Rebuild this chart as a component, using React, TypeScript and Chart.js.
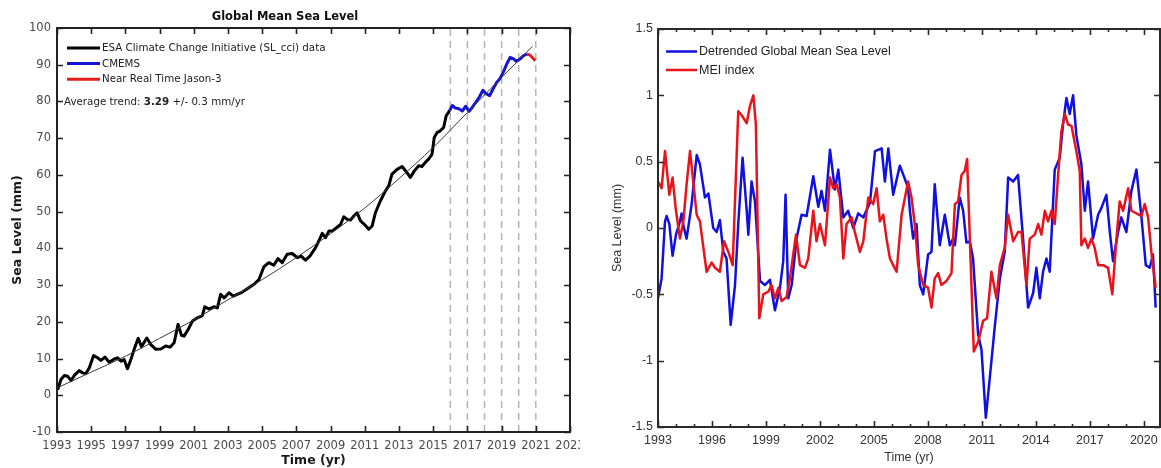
import React, { useEffect, useRef } from "react";
import { Chart, registerables } from "chart.js";

Chart.register(...registerables);

// ---------------- Left chart data (Global Mean Sea Level, mm) ----------------
const esaYears = [
  1993.04, 1993.23, 1993.43, 1993.62, 1993.82, 1994.01, 1994.3, 1994.5, 1994.69, 1994.89,
  1995.14, 1995.37, 1995.57, 1995.8, 1996.05, 1996.35, 1996.54, 1996.74, 1996.93, 1997.12,
  1997.32, 1997.51, 1997.75, 1997.94, 1998.25, 1998.49, 1998.78, 1999.07, 1999.36, 1999.61,
  1999.85, 2000.08, 2000.28, 2000.43, 2000.67, 2000.92, 2001.21, 2001.5, 2001.64, 2001.89,
  2002.18, 2002.38, 2002.57, 2002.77, 2003.06, 2003.31, 2003.54, 2003.84, 2004.13, 2004.52,
  2004.81, 2005.1, 2005.39, 2005.68, 2005.92, 2006.17, 2006.46, 2006.75, 2007.05, 2007.28,
  2007.53, 2007.79, 2008.12, 2008.31, 2008.51, 2008.7, 2008.9, 2009.09, 2009.29, 2009.58,
  2009.77, 2009.97, 2010.16, 2010.4, 2010.55, 2010.75, 2010.98, 2011.23, 2011.43, 2011.62,
  2011.91, 2012.2, 2012.4, 2012.59, 2012.89, 2013.18, 2013.47, 2013.66, 2013.9, 2014.15,
  2014.34, 2014.54, 2014.73, 2014.93, 2015.06, 2015.22, 2015.41, 2015.61, 2015.76, 2015.96,
];
const esaLevels = [
  1.5, 4.3, 5.4, 5.2, 4.0, 5.4, 6.7, 6.1, 5.9, 7.5,
  10.8, 10.2, 9.5, 10.4, 9.0, 9.9, 10.2, 9.3, 9.7, 7.2,
  9.7, 12.5, 15.5, 13.2, 15.6, 13.8, 12.5, 12.6, 13.4, 13.1,
  14.3, 19.3, 16.3, 16.1, 17.9, 20.2, 21.1, 21.7, 24.1, 23.5,
  24.1, 23.8, 27.5, 26.5, 27.9, 27.0, 27.5, 28.1, 29.0, 30.2,
  31.5, 35.0, 36.1, 35.4, 37.2, 36.1, 38.4, 38.6, 37.5, 37.9,
  36.8, 37.9, 40.2, 42.0, 44.1, 42.9, 44.7, 44.7, 45.4, 46.5,
  48.6, 47.9, 47.7, 49.0, 49.7, 47.5, 46.5, 45.2, 46.1, 49.7,
  52.9, 55.6, 57.0, 60.2, 61.5, 62.3, 60.6, 59.3, 61.1, 62.5,
  62.3, 63.4, 64.3, 65.6, 70.2, 71.5, 72.0, 72.9, 76.1, 77.5,
];
const cmemsYears = [
  2015.96, 2016.12, 2016.3, 2016.5, 2016.7, 2016.9, 2017.1, 2017.3, 2017.5, 2017.7,
  2017.9, 2018.1, 2018.3, 2018.5, 2018.7, 2018.9, 2019.1, 2019.3, 2019.5, 2019.7,
  2019.86, 2020.09, 2020.28, 2020.48,
];
const cmemsLevels = [
  77.5, 78.9, 78.2, 78.0, 77.4, 78.7, 77.3, 78.5, 79.8, 81.2,
  83.0, 82.1, 81.6, 83.4, 85.1, 86.2, 88.0, 90.2, 92.0, 91.6,
  90.9, 91.6, 92.5, 92.9,
];
const nrtYears = [2020.48, 2020.67, 2020.87, 2020.97];
const nrtLevels = [92.9, 92.6, 91.6, 91.1];
const trendYears = [1993, 1995, 1997, 1999, 2001, 2003, 2005, 2007, 2009, 2011, 2013, 2015, 2017, 2019, 2020.8];
const trendLevels = [2.0, 6.3, 10.6, 15.5, 20.5, 26.0, 31.5, 37.5, 44.0, 51.0, 59.0, 67.5, 77.0, 86.5, 95.0];
const dashedYears = [2016, 2017, 2018, 2019, 2020, 2021];
const leftXTicks = [1993, 1995, 1997, 1999, 2001, 2003, 2005, 2007, 2009, 2011, 2013, 2015, 2017, 2019, 2021, 2023];
const leftYTicks = [-10, 0, 10, 20, 30, 40, 50, 60, 70, 80, 90, 100];
const leftLegend = ["ESA Climate Change Initiative (SL_cci) data", "CMEMS", "Near Real Time Jason-3"];

// ---------------- Right chart data (detrended GMSL vs MEI) ----------------
const gmslYears = [
  1993.0, 1993.2, 1993.39, 1993.48, 1993.63, 1993.81, 1994.0, 1994.22, 1994.31, 1994.41,
  1994.59, 1994.87, 1995.15, 1995.33, 1995.61, 1995.8, 1996.07, 1996.26, 1996.44, 1996.63,
  1996.81, 1997.04, 1997.28, 1997.46, 1997.7, 1997.93, 1998.02, 1998.2, 1998.39, 1998.67,
  1998.94, 1999.22, 1999.5, 1999.78, 1999.96, 2000.09, 2000.24, 2000.43, 2000.7, 2000.98,
  2001.26, 2001.63, 2001.91, 2002.09, 2002.28, 2002.56, 2002.83, 2003.02, 2003.3, 2003.57,
  2003.85, 2004.13, 2004.41, 2004.78, 2005.06, 2005.43, 2005.61, 2005.8, 2006.07, 2006.44,
  2006.72, 2006.9, 2007.0, 2007.18, 2007.37, 2007.55, 2007.74, 2008.01, 2008.2, 2008.38,
  2008.66, 2008.94, 2009.22, 2009.4, 2009.5, 2009.77, 2009.96, 2010.14, 2010.33, 2010.51,
  2010.79, 2010.98, 2011.22, 2011.44, 2011.72, 2012.0, 2012.27, 2012.46, 2012.74, 2013.01,
  2013.29, 2013.57, 2013.85, 2014.03, 2014.22, 2014.4, 2014.59, 2014.77, 2015.05, 2015.33,
  2015.51, 2015.7, 2015.88, 2016.07, 2016.25, 2016.53, 2016.72, 2016.9, 2017.18, 2017.46,
  2017.64, 2017.92, 2018.11, 2018.29, 2018.57, 2018.75, 2019.03, 2019.31, 2019.59, 2019.87,
  2020.11, 2020.33, 2020.51, 2020.66,
];
const gmslValues = [
  -0.53, -0.38, 0.05, 0.09, 0.03, -0.21, -0.05, 0.05, 0.11, 0.02,
  -0.08, 0.18, 0.55, 0.48, 0.23, 0.26, 0.0, -0.03, 0.06, -0.18,
  -0.23, -0.73, -0.43, 0.03, 0.53, 0.13, -0.05, 0.35, 0.2, -0.4,
  -0.43, -0.39, -0.62, -0.45, -0.25, 0.25, -0.53, -0.43, -0.08, 0.1,
  0.09, 0.39, 0.16, 0.28, 0.13, 0.59, 0.29, 0.44, 0.08, 0.13,
  0.0, 0.11, 0.08, 0.19, 0.58, 0.6, 0.35, 0.6, 0.25, 0.47,
  0.37, 0.3, 0.13, -0.08, 0.03, -0.43, -0.5, -0.2, -0.18, 0.33,
  -0.13, 0.1, -0.13, -0.08, -0.13, 0.23, 0.13, -0.11, -0.1, -0.23,
  -0.8, -0.92, -1.43, -1.13, -0.74, -0.38, -0.18, 0.38, 0.35, 0.4,
  -0.08, -0.6, -0.49, -0.3, -0.53, -0.33, -0.23, -0.33, 0.44, 0.53,
  0.78, 0.98, 0.86, 1.0, 0.7, 0.48, 0.13, 0.35, -0.08, 0.1,
  0.15, 0.25, -0.03, -0.25, -0.03, 0.08, -0.03, 0.28, 0.44, 0.08,
  -0.28, -0.3, -0.2, -0.6,
];
const meiYears = [
  1993.0, 1993.2, 1993.39, 1993.63, 1993.81, 1994.0, 1994.22, 1994.41, 1994.59, 1994.78,
  1994.96, 1995.15, 1995.33, 1995.7, 1995.98, 1996.17, 1996.44, 1996.67, 1996.91, 1997.15,
  1997.46, 1997.65, 1997.93, 1998.11, 1998.3, 1998.44, 1998.63, 1998.85, 1999.13, 1999.31,
  1999.5, 1999.69, 1999.87, 2000.15, 2000.33, 2000.67, 2000.89, 2001.17, 2001.35, 2001.63,
  2001.81, 2002.0, 2002.28, 2002.56, 2002.74, 2002.93, 2003.11, 2003.3, 2003.48, 2003.76,
  2003.94, 2004.22, 2004.41, 2004.69, 2004.96, 2005.15, 2005.33, 2005.52, 2005.7, 2005.89,
  2006.07, 2006.26, 2006.54, 2006.9, 2007.09, 2007.27, 2007.46, 2007.74, 2008.01, 2008.2,
  2008.38, 2008.57, 2008.75, 2009.03, 2009.31, 2009.5, 2009.68, 2009.87, 2010.05, 2010.18,
  2010.37, 2010.55, 2010.79, 2011.07, 2011.29, 2011.53, 2011.81, 2012.0, 2012.27, 2012.46,
  2012.74, 2013.01, 2013.2, 2013.48, 2013.66, 2013.94, 2014.13, 2014.31, 2014.5, 2014.68,
  2014.87, 2015.05, 2015.24, 2015.42, 2015.61, 2015.79, 2015.98, 2016.25, 2016.44, 2016.53,
  2016.72, 2016.9, 2017.09, 2017.27, 2017.46, 2017.74, 2018.01, 2018.25, 2018.48, 2018.66,
  2018.85, 2019.13, 2019.31, 2019.59, 2019.87, 2020.05, 2020.24, 2020.42, 2020.66,
];
const meiValues = [
  0.35, 0.3, 0.58, 0.25, 0.38, 0.13, -0.08, 0.05, 0.33, 0.58,
  0.35, 0.1, 0.05, -0.33, -0.26, -0.3, -0.33, -0.1, -0.18, -0.28,
  0.88, 0.85, 0.79, 0.92, 1.0, 0.78, -0.68, -0.5, -0.48, -0.43,
  -0.53, -0.45, -0.55, -0.52, -0.38, -0.05, -0.28, -0.3, -0.23, 0.13,
  -0.1, 0.03, -0.13, 0.38, 0.3, 0.33, 0.23, -0.23, 0.03, 0.08,
  -0.03, -0.18, -0.1, 0.23, 0.18, 0.3, 0.05, 0.1, -0.08, -0.23,
  -0.28, -0.33, 0.1, 0.35, 0.23, 0.03, -0.28, -0.43, -0.45, -0.6,
  -0.38, -0.34, -0.43, -0.4, -0.34, 0.18, 0.2, 0.4, 0.43, 0.52,
  -0.23, -0.93, -0.86, -0.7, -0.68, -0.33, -0.53, -0.28, -0.15, 0.1,
  -0.1, -0.03, -0.03, -0.43, -0.08, -0.05, 0.03, -0.05, 0.13, 0.05,
  0.13, 0.03, 0.4, 0.73, 0.86, 0.78, 0.77, 0.58, 0.43, -0.13,
  -0.08, -0.15, -0.08, -0.15, -0.28, -0.28, -0.3, -0.5, -0.08, 0.2,
  0.13, 0.3, 0.13, 0.11, 0.09, 0.18, 0.08, -0.18, -0.45,
];
const rightXTicks = [1993, 1996, 1999, 2002, 2005, 2008, 2011, 2014, 2017, 2020];
const rightXMinor = [
  1994, 1995, 1997, 1998, 2000, 2001, 2003, 2004, 2006, 2007, 2009, 2010, 2012, 2013, 2015, 2016, 2018, 2019,
];
const rightYTicks = [-1.5, -1, -0.5, 0, 0.5, 1, 1.5];
const rightLegend = ["Detrended Global Mean Sea Level", "MEI index"];

// ---------------- helpers ----------------
const zip = (xs: number[], ys: number[]) => xs.map((x, i) => ({ x, y: ys[i] }));

type FrameCfg = {
  xMajor: number[];
  xMinor: number[];
  yMajor: number[];
  majorLen: number;
  minorLen: number;
  color: string;
  tickWidth: number;
  borderWidth: number;
  legend: { labels: string[]; colors: string[]; x: number; y: number; dy: number; len: number; font: string; textColor: string; width: number };
  extra?: (ctx: CanvasRenderingContext2D) => void;
};

function makeFrame(cfg: FrameCfg) {
  return {
    id: "frame",
    afterDatasetsDraw(chart: any) {
      const { ctx, chartArea: a, scales } = chart;
      const xs = scales.x;
      const ys = scales.y;
      ctx.save();
      ctx.strokeStyle = cfg.color;
      ctx.lineWidth = cfg.tickWidth;
      ctx.beginPath();
      for (const v of cfg.xMajor) {
        const p = Math.round(xs.getPixelForValue(v)) + 0.5;
        ctx.moveTo(p, a.bottom);
        ctx.lineTo(p, a.bottom - cfg.majorLen);
        ctx.moveTo(p, a.top);
        ctx.lineTo(p, a.top + cfg.majorLen);
      }
      for (const v of cfg.xMinor) {
        const p = Math.round(xs.getPixelForValue(v)) + 0.5;
        ctx.moveTo(p, a.bottom);
        ctx.lineTo(p, a.bottom - cfg.minorLen);
        ctx.moveTo(p, a.top);
        ctx.lineTo(p, a.top + cfg.minorLen);
      }
      for (const v of cfg.yMajor) {
        const p = Math.round(ys.getPixelForValue(v)) + 0.5;
        ctx.moveTo(a.left, p);
        ctx.lineTo(a.left + cfg.majorLen, p);
        ctx.moveTo(a.right, p);
        ctx.lineTo(a.right - cfg.majorLen, p);
      }
      ctx.stroke();
      ctx.lineWidth = cfg.borderWidth;
      ctx.strokeRect(a.left, a.top, a.right - a.left, a.bottom - a.top);

      const lg = cfg.legend;
      ctx.font = lg.font;
      ctx.textBaseline = "middle";
      ctx.textAlign = "left";
      lg.labels.forEach((label, i) => {
        const y = lg.y + i * lg.dy;
        ctx.strokeStyle = lg.colors[i];
        ctx.lineWidth = lg.width;
        ctx.beginPath();
        ctx.moveTo(lg.x, y);
        ctx.lineTo(lg.x + lg.len, y);
        ctx.stroke();
        ctx.fillStyle = lg.textColor;
        ctx.fillText(label, lg.x + lg.len + 2, y + 0.5);
      });
      if (cfg.extra) cfg.extra(ctx);
      ctx.restore();
    },
  };
}

const noPad = (s: any) => {
  s.paddingLeft = 0;
  s.paddingRight = 0;
  s.paddingTop = 0;
  s.paddingBottom = 0;
};

const leftFont = "'DejaVu Sans', Verdana, sans-serif";
const rightFont = "'Liberation Sans', Arial, Helvetica, sans-serif";

export default function App() {
  const leftRef = useRef<HTMLCanvasElement | null>(null);
  const rightRef = useRef<HTMLCanvasElement | null>(null);

  useEffect(() => {
    const lMin = -10;
    const lMax = 100;
    const dashed = dashedYears.map((yr) => ({
      type: "line" as const,
      data: [
        { x: yr, y: lMin },
        { x: yr, y: lMax },
      ],
      borderColor: "#b4b4b4",
      borderWidth: 1.5,
      borderDash: [7, 5],
      pointRadius: 0,
      order: 5,
    }));

    const left = new Chart(leftRef.current as HTMLCanvasElement, {
      type: "line",
      data: {
        datasets: [
          {
            label: "Trend",
            data: zip(trendYears, trendLevels),
            borderColor: "#3a3a3a",
            borderWidth: 1,
            pointRadius: 0,
            cubicInterpolationMode: "monotone",
            order: 0,
          },
          {
            label: leftLegend[0],
            data: zip(esaYears, esaLevels),
            borderColor: "#000000",
            borderWidth: 3,
            pointRadius: 0,
            borderJoinStyle: "round",
            order: 2,
          },
          {
            label: leftLegend[1],
            data: zip(cmemsYears, cmemsLevels),
            borderColor: "#1414d2",
            borderWidth: 3,
            pointRadius: 0,
            borderJoinStyle: "round",
            order: 2,
          },
          {
            label: leftLegend[2],
            data: zip(nrtYears, nrtLevels),
            borderColor: "#e61c1c",
            borderWidth: 3,
            pointRadius: 0,
            borderJoinStyle: "round",
            order: 1,
          },
          ...dashed,
        ] as any,
      },
      options: {
        animation: false,
        responsive: false,
        devicePixelRatio: 1,
        events: [],
        layout: { padding: { left: 0, right: 10, top: 0, bottom: 0 } },
        plugins: {
          legend: { display: false },
          tooltip: { enabled: false },
          title: {
            display: true,
            text: "Global Mean Sea Level",
            color: "#111",
            font: { family: leftFont, size: 11.5, weight: "bold" },
            padding: { top: 10, bottom: 4.2 },
          },
        },
        scales: {
          x: {
            type: "linear",
            min: 1993,
            max: 2023,
            grid: { display: false, drawTicks: false },
            border: { display: false },
            afterBuildTicks: (s: any) => {
              s.ticks = leftXTicks.map((v) => ({ value: v }));
            },
            afterFit: (s: any) => {
              s.height = 36;
              noPad(s);
            },
            ticks: {
              padding: 7,
              color: "#4a4a4a",
              font: { family: leftFont, size: 11.5 },
              maxRotation: 0,
              autoSkip: false,
              callback: (v: any) => String(v),
            },
            title: {
              display: true,
              text: "Time (yr)",
              color: "#1a1a1a",
              font: { family: leftFont, size: 12.5, weight: "bold" },
              padding: { top: 0, bottom: 0 },
            },
          },
          y: {
            type: "linear",
            min: lMin,
            max: lMax,
            grid: { display: false, drawTicks: false },
            border: { display: false },
            afterBuildTicks: (s: any) => {
              s.ticks = leftYTicks.map((v) => ({ value: v }));
            },
            afterFit: (s: any) => {
              s.width = 57;
              noPad(s);
            },
            ticks: {
              padding: 6,
              color: "#4a4a4a",
              font: { family: leftFont, size: 11.5 },
              callback: (v: any) => String(v),
            },
            title: {
              display: true,
              text: "Sea Level (mm)",
              color: "#1a1a1a",
              font: { family: leftFont, size: 12.5, weight: "bold" },
              padding: { top: 10, bottom: 0 },
            },
          },
        },
      } as any,
      plugins: [
        makeFrame({
          xMajor: leftXTicks,
          xMinor: [],
          yMajor: leftYTicks,
          majorLen: 6,
          minorLen: 3,
          color: "#222",
          tickWidth: 1.6,
          borderWidth: 2,
          legend: {
            labels: leftLegend,
            colors: ["#000000", "#1414d2", "#e61c1c"],
            x: 67,
            y: 48,
            dy: 15.6,
            len: 33,
            font: `10.3px ${leftFont}`,
            textColor: "#222",
            width: 3,
          },
          extra: (ctx) => {
            const y = 102;
            let x = 64;
            ctx.fillStyle = "#222";
            ctx.font = `10.3px ${leftFont}`;
            const p1 = "Average trend: ";
            ctx.fillText(p1, x, y);
            x += ctx.measureText(p1).width;
            ctx.font = `bold 10.3px ${leftFont}`;
            const p2 = "3.29";
            ctx.fillText(p2, x, y);
            x += ctx.measureText(p2).width;
            ctx.font = `10.3px ${leftFont}`;
            ctx.fillText(" +/- 0.3 mm/yr", x, y);
          },
        }) as any,
      ],
    });

    const right = new Chart(rightRef.current as HTMLCanvasElement, {
      type: "line",
      data: {
        datasets: [
          {
            label: rightLegend[1],
            data: zip(meiYears, meiValues),
            borderColor: "#e8141c",
            borderWidth: 2.5,
            pointRadius: 0,
            borderJoinStyle: "round",
            order: 0,
          },
          {
            label: rightLegend[0],
            data: zip(gmslYears, gmslValues),
            borderColor: "#1010e0",
            borderWidth: 2.5,
            pointRadius: 0,
            borderJoinStyle: "round",
            order: 1,
          },
        ] as any,
      },
      options: {
        animation: false,
        responsive: false,
        devicePixelRatio: 1,
        events: [],
        layout: { padding: { left: 0, right: 1, top: 29, bottom: 0 } },
        plugins: {
          legend: { display: false },
          tooltip: { enabled: false },
        },
        scales: {
          x: {
            type: "linear",
            min: 1993,
            max: 2020.9,
            grid: { display: false, drawTicks: false },
            border: { display: false },
            afterBuildTicks: (s: any) => {
              s.ticks = rightXTicks.map((v) => ({ value: v }));
            },
            afterFit: (s: any) => {
              s.height = 41;
              noPad(s);
            },
            ticks: {
              padding: 6,
              color: "#333",
              font: { family: rightFont, size: 12.5 },
              maxRotation: 0,
              autoSkip: false,
              callback: (v: any) => String(v),
            },
            title: {
              display: true,
              text: "Time (yr)",
              color: "#333",
              font: { family: rightFont, size: 12.5 },
              padding: { top: 0, bottom: 2.5 },
            },
          },
          y: {
            type: "linear",
            min: -1.5,
            max: 1.5,
            grid: { display: false, drawTicks: false },
            border: { display: false },
            afterBuildTicks: (s: any) => {
              s.ticks = rightYTicks.map((v) => ({ value: v }));
            },
            afterFit: (s: any) => {
              s.width = 77;
              noPad(s);
            },
            ticks: {
              padding: 5,
              color: "#333",
              font: { family: rightFont, size: 12.5 },
              callback: (v: any) => String(v),
            },
            title: {
              display: true,
              text: "Sea Level (mm)",
              color: "#333",
              font: { family: rightFont, size: 12.5 },
              padding: { top: 29.5, bottom: 0 },
            },
          },
        },
      } as any,
      plugins: [
        makeFrame({
          xMajor: rightXTicks,
          xMinor: rightXMinor,
          yMajor: rightYTicks,
          majorLen: 6,
          minorLen: 3,
          color: "#2a2a2a",
          tickWidth: 1.6,
          borderWidth: 2,
          legend: {
            labels: rightLegend,
            colors: ["#1010e0", "#e8141c"],
            x: 85,
            y: 51.5,
            dy: 18.5,
            len: 31,
            font: `12.5px ${rightFont}`,
            textColor: "#222",
            width: 2.5,
          },
        }) as any,
      ],
    });

    return () => {
      left.destroy();
      right.destroy();
    };
  }, []);

  return (
    <div style={{ position: "absolute", left: 0, top: 0, width: 1161, height: 468, background: "#fff", overflow: "hidden" }}>
      <canvas ref={leftRef} width={580} height={468} style={{ position: "absolute", left: 0, top: 0, width: 580, height: 468 }} />
      <canvas ref={rightRef} width={580} height={468} style={{ position: "absolute", left: 581, top: 0, width: 580, height: 468 }} />
    </div>
  );
}
